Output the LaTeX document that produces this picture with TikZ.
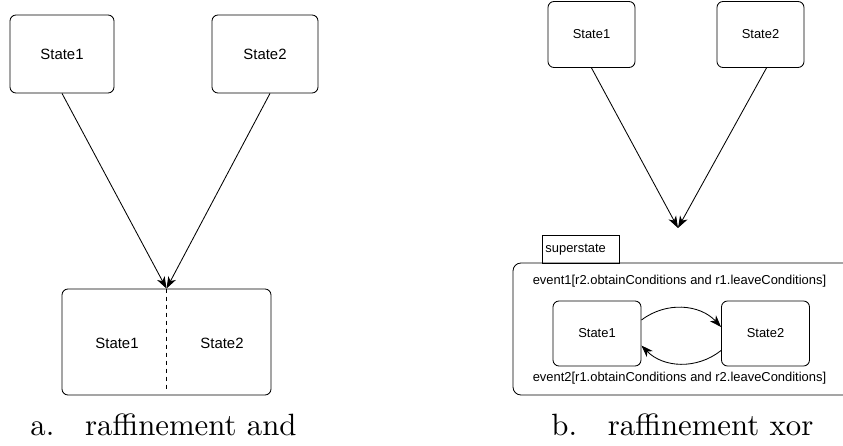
\documentclass[tikz,border=0pt]{standalone}
\usepackage{fontspec}
\newfontfamily\sansfont{Liberation Sans}
\newfontfamily\capfont{lmroman10-regular.otf}
\usetikzlibrary{arrows.meta}

\begin{document}
\begin{tikzpicture}[x=0.025cm,y=-0.025cm,
  line width=0.6pt,
  state/.style={draw,rounded corners=6*0.025cm,font=\sansfont\fontsize{10.6}{12}\selectfont},
  small/.style={draw,rounded corners=6*0.025cm,minimum width=87*0.025cm,minimum height=66*0.025cm,
    font=\sansfont\fontsize{9.2}{11}\selectfont},
  label/.style={font=\sansfont\fontsize{9.2}{11}\selectfont,inner sep=0pt},
  caption/.style={font=\capfont\fontsize{21.9}{26}\selectfont,anchor=base west,inner sep=0pt},
  trans/.style={-{Stealth[length=8.5pt,width=6pt,inset=2.5pt]}}]

\def\u{0.025cm}
\path[use as bounding box,clip] (0,0) rectangle (843,446);

% a. raffinement and
\node[state,minimum width=104*\u,minimum height=78*\u] (ls1) at (62,54) {State1};
\node[state,minimum width=106*\u,minimum height=78*\u] (ls2) at (265,54) {State2};
\node[state,minimum width=209*\u,minimum height=106*\u] (land) at (166.5,342) {};
\node[font=\sansfont\fontsize{10.6}{12}\selectfont] (lin1) at (117,343) {State1};
\node[font=\sansfont\fontsize{10.6}{12}\selectfont] (lin2) at (222,343) {State2};
\draw[dashed,dash pattern=on 4*\u off 4*\u] (land.north) -- ([yshift=6*\u]land.south);
\draw[trans] (ls1.south) -- (land.north);
\draw[trans] ([xshift=5*\u]ls2.south) -- (land.north);
\node[caption] (capa) at (30,435) {a.\quad raffinement and};

% b. raffinement xor
\node[small] (rs1) at (591.5,34.5) {State1};
\node[small] (rs2) at (760.5,34.5) {State2};
\coordinate (tip) at (678,228);
\draw[trans] (rs1.south) -- (tip);
\draw[trans] ([xshift=6*\u]rs2.south) -- (tip);

\node[draw,minimum width=77*\u,minimum height=28*\u,inner sep=0pt] (tab) at (580.5,249) {};
\node[label,anchor=west] (tabtxt) at (545,249.5) {superstate};
\node[draw,rounded corners=8*\u,minimum width=420*\u,minimum height=132*\u] (sup) at (723,329) {};
\node[label] (ev1) at (679.5,281) {event1[r2.obtainConditions and r1.leaveConditions]};
\node[label] (ev2) at (679.5,378) {event2[r1.obtainConditions and r2.leaveConditions]};
\node[small,minimum width=88*\u,minimum height=65*\u] (xs1) at (597,333.5) {State1};
\node[small,minimum width=88*\u,minimum height=65*\u] (xs2) at (765.5,333.5) {State2};
\draw[trans] ([yshift=13.5*\u]xs1.east) to[bend left=42] ([yshift=6.5*\u]xs2.west);
\draw[trans] ([yshift=-17*\u]xs2.west) to[bend left=42] ([yshift=-12*\u]xs1.east);
\node[caption] (capb) at (551,435) {b.\quad raffinement xor};

\end{tikzpicture}
\end{document}
